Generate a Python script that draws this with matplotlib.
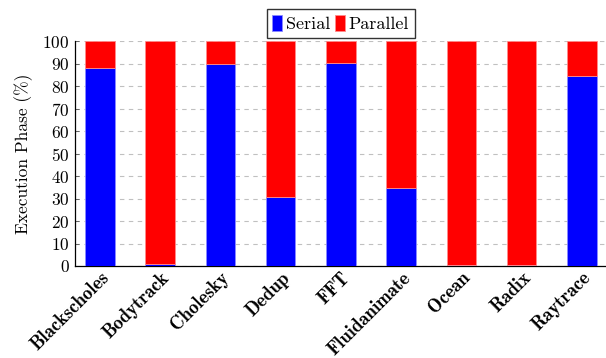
import numpy as np
import matplotlib.pyplot as plt

plt.rcParams['font.family'] = 'cmr10'
plt.rcParams['axes.formatter.use_mathtext'] = True
plt.rcParams['mathtext.fontset'] = 'cm'

benchmarks = ['Blackscholes', 'Bodytrack', 'Cholesky', 'Dedup', 'FFT',
              'Fluidanimate', 'Ocean', 'Radix', 'Raytrace']
serial = [88.1, 0.7, 89.9, 30.5, 90.2, 34.8, 0.3, 0.3, 84.4]
parallel = [100 - s for s in serial]

fig = plt.figure(figsize=(6.06, 3.58), dpi=100)
ax = fig.add_axes([0.124, 0.257, 0.876, 0.628])

x = np.arange(len(benchmarks))
w = 0.49
ax.bar(x, serial, w, color='#0000ff', edgecolor='#8c8cff', linewidth=0.6,
       label='Serial', zorder=3)
ax.bar(x, parallel, w, bottom=serial, color='#ff0000', edgecolor='#ff8c8c',
       linewidth=0.6, label='Parallel', zorder=3)

ax.set_xlim(-0.41, 8.4)
ax.set_ylim(0, 100)
ax.set_yticks(range(0, 101, 10))
ax.yaxis.grid(True, linestyle=(0, (4, 4)), color='#c0c0c0', linewidth=0.8, zorder=0)
ax.set_axisbelow(True)

for s in ['top', 'right']:
    ax.spines[s].set_visible(False)
ax.spines['left'].set_linewidth(0.9)
ax.spines['bottom'].set_linewidth(0.9)

ax.tick_params(axis='y', direction='in', length=3, width=0.6, color='#555555',
               labelsize=12.5, pad=4)
ax.tick_params(axis='x', length=0, pad=2)
ax.set_xticks(x)
ax.set_xticklabels(benchmarks, rotation=45, ha='right', rotation_mode='anchor',
                   fontfamily='cmb10', fontsize=13.5)

ax.set_ylabel('Execution Phase (%)', fontsize=12.5, labelpad=7)

ax.legend(loc='lower center', bbox_to_anchor=(0.5, 1.0), ncol=2,
          frameon=True, fancybox=False, edgecolor='black', fontsize=13,
          handlelength=0.55, handleheight=1.0, handletextpad=0.2,
          columnspacing=0.3, borderpad=0.3, borderaxespad=0.2)

fig.savefig('out.png', dpi=100)
